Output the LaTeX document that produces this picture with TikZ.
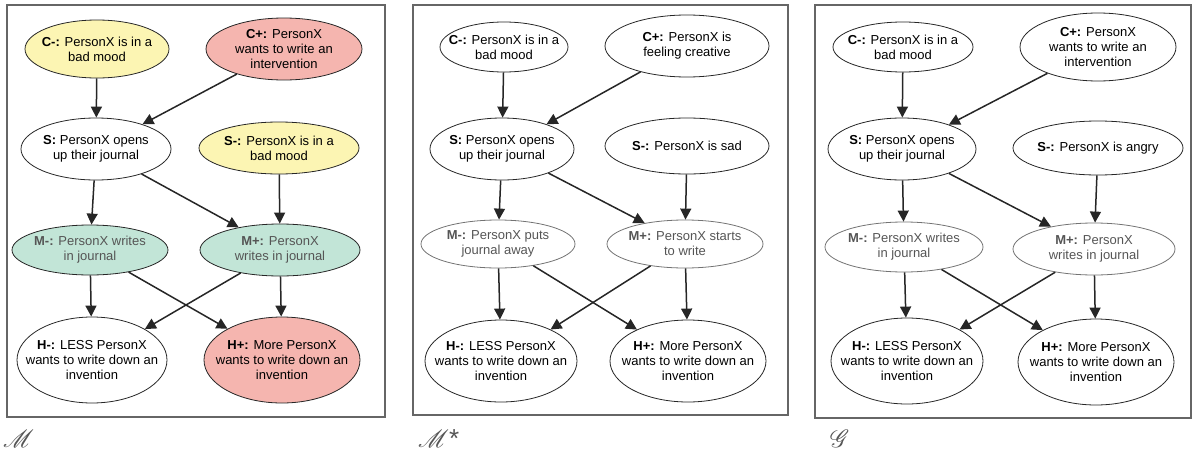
\documentclass[tikz,border=0pt]{standalone}
\usepackage{fontspec}
\setmainfont{Liberation Sans}
\usepackage{mathrsfs}
\usetikzlibrary{shapes.geometric}
\usetikzlibrary{arrows.meta}
\definecolor{yellowfill}{HTML}{FCF5B3}
\definecolor{redfill}{HTML}{F5B5AF}
\definecolor{greenfill}{HTML}{C2E5D7}
\definecolor{midtext}{HTML}{555555}

\begin{document}
\begin{tikzpicture}[x=1pt,y=-1pt,
node_style/.style={draw=black!85,ellipse,line width=0.8pt,align=center,inner sep=-40pt,
  font=\fontsize{13}{15}\selectfont},
mid_style/.style={node_style,text=midtext},
yellow_node/.style={fill=yellowfill},
red_node/.style={fill=redfill},
green_node/.style={fill=greenfill},
label_style/.style={text=midtext,inner sep=0pt,anchor=west,font=\fontsize{26}{30}\selectfont},
box_style/.style={draw=black!60,line width=1.3pt},
edge_style/.style={draw=black!85,line width=1.5pt,-{Triangle[length=11pt,width=11pt]}}]
\useasboundingbox (0,0) rectangle (1194,455);

% panel M
\draw[box_style] (7,5) rectangle (385,417);
\node[node_style,yellow_node,minimum width=144,minimum height=58] (acm) at (97,49) {\textbf{C-:} PersonX is in a\\bad mood};
\node[node_style,red_node,minimum width=156,minimum height=62] (acp) at (284,49) {\textbf{C+:} PersonX\\wants to write an\\intervention};
\node[node_style,minimum width=150,minimum height=62] (as) at (96,149) {\textbf{S:} PersonX opens\\up their journal};
\node[node_style,yellow_node,minimum width=160,minimum height=52] (asm) at (279,148) {\textbf{S-:} PersonX is in a\\bad mood};
\node[mid_style,green_node,minimum width=156,minimum height=50] (amm) at (90,250) {\textbf{M-:} PersonX writes\\in journal};
\node[mid_style,green_node,minimum width=160,minimum height=52] (amp) at (280,250) {\textbf{M+:} PersonX\\writes in journal};
\node[node_style,minimum width=150,minimum height=86] (ahm) at (92,360) {\textbf{H-:} LESS PersonX\\wants to write down an\\invention};
\node[node_style,red_node,minimum width=156,minimum height=86] (ahp) at (282,360) {\textbf{H+:} More PersonX\\wants to write down an\\invention};
\node[label_style] (alabel) at (3,439) {$\mathscr{M}$};

% panel M*
\draw[box_style] (413,5) rectangle (788,415);
\node[node_style,minimum width=128,minimum height=50] (bcm) at (504,47) {\textbf{C-:} PersonX is in a\\bad mood};
\node[node_style,minimum width=164,minimum height=62] (bcp) at (687,46) {\textbf{C+:} PersonX is\\feeling creative};
\node[node_style,minimum width=144,minimum height=62] (bs) at (502,149) {\textbf{S:} PersonX opens\\up their journal};
\node[node_style,minimum width=164,minimum height=56] (bsm) at (687,146) {\textbf{S-:} PersonX is sad};
\node[mid_style,draw=black!55,minimum width=154,minimum height=48] (bmm) at (498,244) {\textbf{M-:} PersonX puts\\journal away};
\node[mid_style,draw=black!55,minimum width=156,minimum height=48] (bmp) at (685,244) {\textbf{M+:} PersonX starts\\to write};
\node[node_style,minimum width=152,minimum height=82] (bhm) at (501,361) {\textbf{H-:} LESS PersonX\\wants to write down an\\invention};
\node[node_style,minimum width=156,minimum height=82] (bhp) at (688,361) {\textbf{H+:} More PersonX\\wants to write down an\\invention};
\node[label_style] (blabel) at (418,439) {$\mathscr{M}$*};

% panel G
\draw[box_style] (815,5) rectangle (1191,418);
\node[node_style,minimum width=140,minimum height=50] (ccm) at (903,47) {\textbf{C-:} PersonX is in a\\bad mood};
\node[node_style,minimum width=156,minimum height=68] (ccp) at (1098,47) {\textbf{C+:} PersonX\\wants to write an\\intervention};
\node[node_style,minimum width=148,minimum height=62] (cs) at (902,149) {\textbf{S:} PersonX opens\\up their journal};
\node[node_style,minimum width=170,minimum height=54] (csm) at (1098,148) {\textbf{S-:} PersonX is angry};
\node[mid_style,draw=black!55,minimum width=158,minimum height=50] (cmm) at (904,247) {\textbf{M-:} PersonX writes\\in journal};
\node[mid_style,draw=black!55,minimum width=162,minimum height=52] (cmp) at (1094,249) {\textbf{M+:} PersonX\\writes in journal};
\node[node_style,minimum width=152,minimum height=86] (chm) at (907,361) {\textbf{H-:} LESS PersonX\\wants to write down an\\invention};
\node[node_style,minimum width=156,minimum height=86] (chp) at (1096,362) {\textbf{H+:} More PersonX\\wants to write down an\\invention};
\node[label_style] (clabel) at (830,439) {$\mathscr{G}$};

\foreach \p in {a,b,c}{
 \foreach \u/\v in {cm/s,cp/s,s/mm,s/mp,sm/mp,mm/hm,mm/hp,mp/hm,mp/hp}{
  \draw[edge_style] (\p\u) -- (\p\v);
 }
}
\end{tikzpicture}
\end{document}
